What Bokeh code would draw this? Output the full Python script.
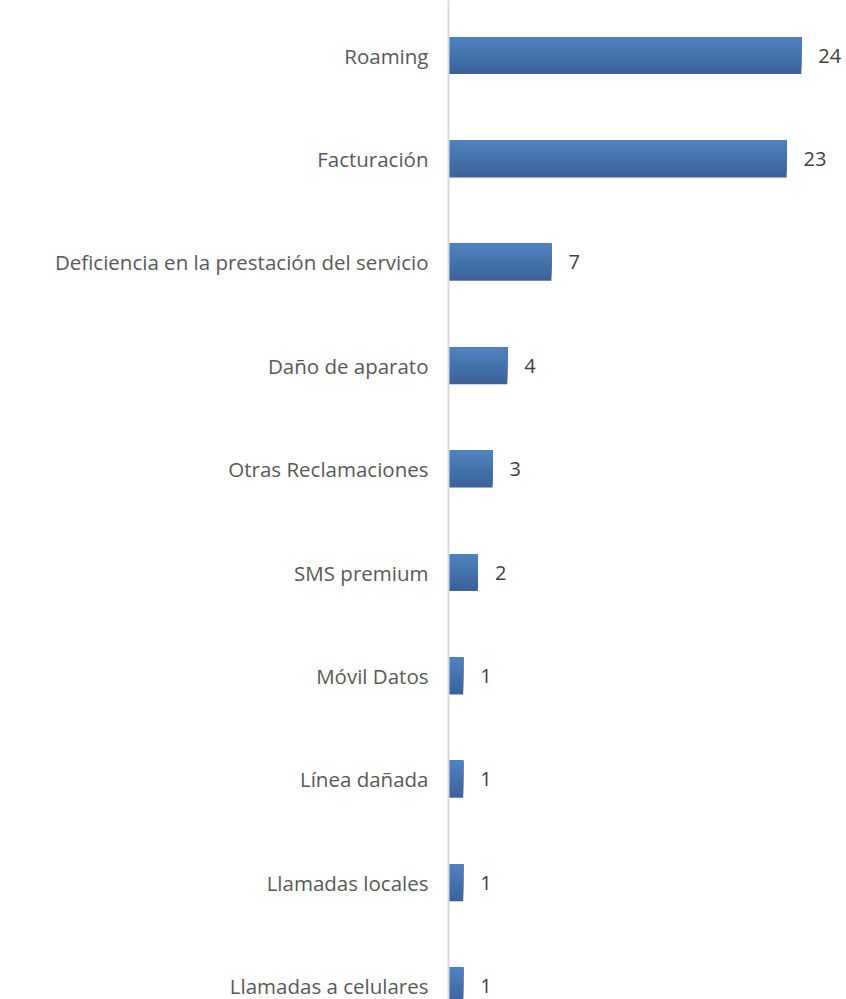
from bokeh.plotting import figure
from bokeh.models import ColumnDataSource, Range1d, FixedTicker
from bokeh.core.properties import value
from bokeh.embed import file_html
from bokeh.resources import INLINE

categories = ["Roaming", "Facturación", "Deficiencia en la prestación del servicio",
              "Daño de aparato", "Otras Reclamaciones", "SMS premium", "Móvil Datos",
              "Línea dañada", "Llamadas locales", "Llamadas a celulares"]
values = [24, 23, 7, 4, 3, 2, 1, 1, 1, 1]

n = len(categories)
ys = [n - 1 - i for i in range(n)]
labels = [str(v) for v in values]

src = ColumnDataSource(dict(y=ys, v=values, lab=labels))

PX_PER_UNIT = 14.7
W, H = 846, 999
LEFT = 448
ROW_PX = 103.4
TOP_PX = 55

p = figure(width=W, height=H, output_backend="svg", toolbar_location=None,
           x_range=Range1d(0, (W - LEFT) / PX_PER_UNIT),
           y_range=Range1d((n - 1) + TOP_PX / ROW_PX - H / ROW_PX, (n - 1) + TOP_PX / ROW_PX),
           min_border_left=LEFT, min_border_right=0, min_border_top=0, min_border_bottom=0)
p.outline_line_color = None
p.xgrid.visible = False
p.ygrid.visible = False
p.xaxis.visible = False

# gradient bars (light top -> dark bottom): overlapping layers anchored at the top
bar_h = 0.358
strips = 10
top_c = (0x50, 0x83, 0xC1)
bot_c = (0x3A, 0x61, 0x98)
for k in range(strips - 1, -1, -1):
    t = (k + 0.5) / strips
    c = tuple(int(round(top_c[j] + (bot_c[j] - top_c[j]) * t)) for j in range(3))
    col = "#%02x%02x%02x" % c
    frac = (k + 1) / strips          # layer covers top `frac` of the bar
    s = ColumnDataSource(dict(top=[y + bar_h / 2 for y in ys],
                              bottom=[y + bar_h / 2 - bar_h * frac for y in ys],
                              v=values))
    p.quad(left=0, right="v", top="top", bottom="bottom", source=s,
           fill_color=col, line_color=None)

p.text(x="v", y="y", text="lab", source=src, x_offset=17, text_baseline="middle",
       text_align="left", text_font=value("Open Sans"), text_font_size="20px",
       text_color="#404040")

ax = p.yaxis[0]
ax.ticker = FixedTicker(ticks=ys)
ax.major_label_overrides = {y: c for y, c in zip(ys, categories)}
ax.axis_line_color = "#D9D9D9"
ax.axis_line_width = 2
ax.major_tick_line_color = None
ax.minor_tick_line_color = None
ax.major_label_standoff = 14
ax.major_label_text_font = "Open Sans"
ax.major_label_text_font_size = "20.5px"
ax.major_label_text_color = "#595959"

open("out.html", "w").write(file_html(p, INLINE))
